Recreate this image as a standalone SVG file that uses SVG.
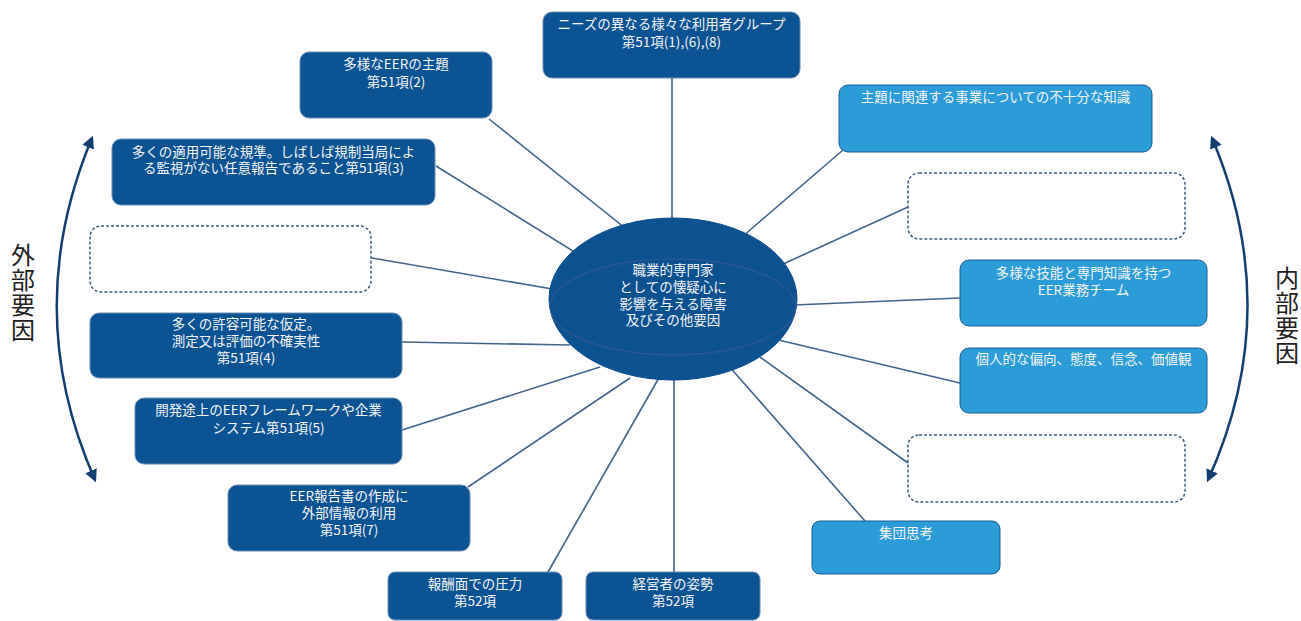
<svg xmlns="http://www.w3.org/2000/svg" width="1301" height="621" viewBox="0 0 1301 621">
<defs>
<style>
.dk{fill:#0c5393;stroke:#6a8db3;stroke-width:1}
.lt{fill:#2b9cd8;stroke:#1d5f91;stroke-width:1}
.ds{fill:#ffffff;stroke:#3e5c80;stroke-width:1.5;stroke-dasharray:3 2}
.t{font-family:"Noto Sans CJK JP","Noto Sans CJK SC",sans-serif;font-size:13.5px;fill:#f4f4f4;text-anchor:middle}
.side{font-family:"Noto Sans CJK JP","Noto Sans CJK SC",sans-serif;font-size:24px;fill:#222222;writing-mode:vertical-rl;letter-spacing:1px}
.cn line{stroke:#42648a;stroke-width:1.6}
.arc{fill:none;stroke:#123f6d;stroke-width:2.5}
</style>
<marker id="ah" viewBox="0 0 10 10" refX="8" refY="5" markerWidth="5" markerHeight="5" orient="auto-start-reverse" markerUnits="strokeWidth">
<path d="M0,0 L10,5 L0,10 Z" fill="#123f6d"/>
</marker>
</defs>
<rect width="1301" height="621" fill="#ffffff"/>
<g id="connectors" class="cn">
<line x1="672" y1="78" x2="672" y2="300"/>
<line x1="489" y1="119" x2="660" y2="256"/>
<line x1="436" y1="166" x2="610" y2="274"/>
<line x1="372" y1="258" x2="570" y2="292"/>
<line x1="402" y1="342" x2="570" y2="345"/>
<line x1="402" y1="430" x2="600" y2="367"/>
<line x1="468" y1="487" x2="630" y2="378"/>
<line x1="548" y1="572" x2="660" y2="376"/>
<line x1="674" y1="572" x2="674" y2="340"/>
<line x1="865" y1="521" x2="720" y2="356"/>
<line x1="908" y1="463" x2="760" y2="357"/>
<line x1="960" y1="383" x2="770" y2="338"/>
<line x1="960" y1="298" x2="770" y2="306"/>
<line x1="908" y1="207" x2="770" y2="270"/>
<line x1="843" y1="150" x2="735" y2="243"/>
</g>
<g id="center">
<ellipse cx="673" cy="299" rx="124" ry="81" fill="#0c5190" stroke="#0b4c88" stroke-width="1"/>
<ellipse cx="673" cy="307" rx="123" ry="48" fill="none" stroke="#5a5f96" stroke-width="0.8" opacity="0.7"/>
<text class="t" fill="#e8e8f0"><tspan x="673" y="275">職業的専門家</tspan><tspan x="673" y="292">としての懐疑心に</tspan><tspan x="673" y="309">影響を与える障害</tspan><tspan x="673" y="325">及びその他要因</tspan></text>
</g>
<g id="n-users">
<rect class="dk" x="543" y="12" width="257" height="66" rx="9"/>
<text class="t"><tspan x="671.5" y="29">ニーズの異なる様々な利用者グループ</tspan><tspan x="671.5" y="47">第51項(1),(6),(8)</tspan></text>
</g>
<g id="n-subjects">
<rect class="dk" x="300" y="52" width="192" height="66" rx="9"/>
<text class="t"><tspan x="396" y="69">多様なEERの主題</tspan><tspan x="396" y="87">第51項(2)</tspan></text>
</g>
<g id="n-criteria">
<rect class="dk" x="112" y="139" width="323" height="66" rx="9"/>
<text class="t"><tspan x="273.5" y="157">多くの適用可能な規準。しばしば規制当局によ</tspan><tspan x="273.5" y="173">る監視がない任意報告であること第51項(3)</tspan></text>
</g>
<g id="n-blank-left">
<rect class="ds" x="90" y="226" width="281" height="66" rx="11"/>
</g>
<g id="n-assumptions">
<rect class="dk" x="90" y="313" width="312" height="65" rx="9"/>
<text class="t"><tspan x="246" y="329">多くの許容可能な仮定。</tspan><tspan x="246" y="346">測定又は評価の不確実性</tspan><tspan x="246" y="363">第51項(4)</tspan></text>
</g>
<g id="n-framework">
<rect class="dk" x="135" y="398" width="267" height="66" rx="9"/>
<text class="t"><tspan x="268.5" y="415">開発途上のEERフレームワークや企業</tspan><tspan x="268.5" y="433">システム第51項(5)</tspan></text>
</g>
<g id="n-external">
<rect class="dk" x="228" y="485" width="242" height="66" rx="9"/>
<text class="t"><tspan x="349" y="501">EER報告書の作成に</tspan><tspan x="349" y="518">外部情報の利用</tspan><tspan x="349" y="535">第51項(7)</tspan></text>
</g>
<g id="n-compensation">
<rect class="dk" x="388" y="572" width="174" height="48" rx="7"/>
<text class="t"><tspan x="475" y="589">報酬面での圧力</tspan><tspan x="475" y="606">第52項</tspan></text>
</g>
<g id="n-management">
<rect class="dk" x="586" y="572" width="174" height="48" rx="7"/>
<text class="t"><tspan x="673" y="589">経営者の姿勢</tspan><tspan x="673" y="606">第52項</tspan></text>
</g>
<g id="n-groupthink">
<rect class="lt" x="812" y="521" width="188" height="53" rx="8"/>
<text class="t"><tspan x="906" y="538">集団思考</tspan></text>
</g>
<g id="n-blank-right-low">
<rect class="ds" x="908" y="435" width="277" height="67" rx="11"/>
</g>
<g id="n-bias">
<rect class="lt" x="960" y="348" width="247" height="65" rx="9"/>
<text class="t"><tspan x="1083.5" y="364">個人的な偏向、態度、信念、価値観</tspan></text>
</g>
<g id="n-team">
<rect class="lt" x="960" y="260" width="247" height="66" rx="9"/>
<text class="t"><tspan x="1083.5" y="278">多様な技能と専門知識を持つ</tspan><tspan x="1083.5" y="295">EER業務チーム</tspan></text>
</g>
<g id="n-blank-right-up">
<rect class="ds" x="908" y="173" width="277" height="66" rx="11"/>
</g>
<g id="n-knowledge">
<rect class="lt" x="839" y="85" width="313" height="67" rx="9"/>
<text class="t"><tspan x="995.5" y="102">主題に関連する事業についての不十分な知識</tspan></text>
</g>
<g id="external-label">
<path class="arc" d="M95,480 Q20,310 92,138" marker-start="url(#ah)" marker-end="url(#ah)"/>
<text class="side" x="23" y="243">外部要因</text>
</g>
<g id="internal-label">
<path class="arc" d="M1212,138 Q1285,310 1208,480" marker-start="url(#ah)" marker-end="url(#ah)"/>
<text class="side" x="1287" y="266">内部要因</text>
</g>
</svg>
